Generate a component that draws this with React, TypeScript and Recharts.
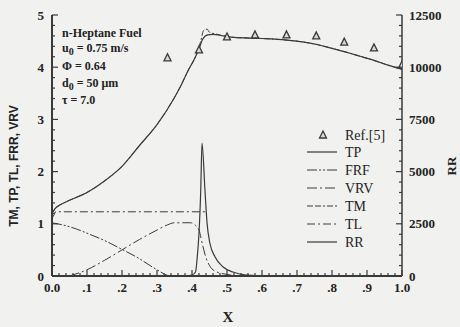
import { ComposedChart, Line, Scatter, XAxis, YAxis } from "recharts";

// left axis series (0..5), [x, value]
const TP: [number, number][] = [
  [0, 1.2], [0.01, 1.3], [0.02, 1.35], [0.05, 1.45], [0.1, 1.6], [0.15, 1.82],
  [0.2, 2.1], [0.25, 2.5], [0.3, 2.9], [0.35, 3.42], [0.37, 3.67], [0.39, 3.95],
  [0.41, 4.2], [0.42, 4.35], [0.43, 4.53], [0.445, 4.62], [0.46, 4.63], [0.49, 4.6],
  [0.52, 4.57], [0.6, 4.55], [0.67, 4.52], [0.72, 4.48], [0.76, 4.43], [0.8, 4.36],
  [0.84, 4.29], [0.88, 4.21], [0.92, 4.13], [0.96, 4.04], [1.0, 3.96],
];
const TM: [number, number][] = [
  [0, 1.2], [0.01, 1.3], [0.02, 1.35], [0.05, 1.45], [0.1, 1.6], [0.15, 1.82],
  [0.2, 2.1], [0.25, 2.5], [0.3, 2.9], [0.35, 3.42], [0.37, 3.67], [0.39, 3.95],
  [0.41, 4.2], [0.425, 4.5], [0.433, 4.7], [0.443, 4.73], [0.45, 4.67], [0.466, 4.64],
  [0.49, 4.6], [0.52, 4.57], [0.6, 4.55], [0.67, 4.52], [0.72, 4.48], [0.76, 4.43],
  [0.8, 4.36], [0.84, 4.29], [0.88, 4.21], [0.92, 4.13], [0.96, 4.04], [1.0, 3.96],
];
const TL: [number, number][] = [
  [0, 1.1], [0.01, 1.23], [0.1, 1.23], [0.2, 1.23], [0.3, 1.23], [0.4, 1.23], [0.443, 1.23],
];
const FRF: [number, number][] = [
  [0, 1.02], [0.03, 0.98], [0.07, 0.9], [0.1, 0.82], [0.15, 0.68], [0.2, 0.51],
  [0.25, 0.33], [0.28, 0.2], [0.3, 0.12], [0.32, 0.04], [0.335, 0],
];
const VRV: [number, number][] = [
  [0.05, 0], [0.1, 0.12], [0.15, 0.3], [0.2, 0.5], [0.25, 0.7], [0.3, 0.88],
  [0.33, 0.98], [0.35, 1.02], [0.395, 1.02], [0.41, 0.97], [0.42, 0.88], [0.43, 0.6],
  [0.44, 0.35], [0.45, 0.2], [0.47, 0.08], [0.5, 0.03], [0.53, 0],
];
// right axis series
const RR: [number, number][] = [
  [0.38, 0], [0.4, 50], [0.41, 190], [0.415, 910], [0.42, 2060], [0.425, 4120],
  [0.4286, 6370], [0.437, 4120], [0.443, 2540], [0.451, 1580], [0.466, 910],
  [0.489, 430], [0.517, 190], [0.55, 50], [0.6, 0],
];
const REF5: [number, number][] = [
  [0.33, 4.18], [0.42, 4.33], [0.5, 4.58], [0.58, 4.62], [0.67, 4.62],
  [0.755, 4.6], [0.835, 4.48], [0.92, 4.37], [1.0, 4.04],
];

const xMinor = Array.from({ length: 51 }, (_, i) => +(i * 0.02).toFixed(2));
const xLabels = ["0.0", ".1", ".2", ".3", ".4", ".5", ".6", ".7", ".8", ".9", "1.0"];
const yMinor = Array.from({ length: 26 }, (_, i) => +(i * 0.2).toFixed(1));
const rrMinor = Array.from({ length: 26 }, (_, i) => i * 500);
const rrLabels = [0, 2500, 5000, 7500, 10000, 12500];

const rows = (pts: [number, number][]) => pts.map(([x, y]) => ({ x, y }));

const INK = "#3a3a3a";
const TXT = "#222";
const SERIF = "'Liberation Serif', 'Times New Roman', serif";

const legendItems = [
  { name: "TP", dash: undefined },
  { name: "FRF", dash: "10 2 2 2 2 2" },
  { name: "VRV", dash: "10 3 2 3" },
  { name: "TM", dash: "6 2 6 2 2 2" },
  { name: "TL", dash: "8 3 2 3" },
  { name: "RR", dash: undefined },
];

const isMajor = (v: number, step: number) =>
  Math.abs(v / step - Math.round(v / step)) < 1e-6;

function BottomTick(props: any) {
  const { x, y, payload } = props;
  const v = payload.value;
  const major = isMajor(v, 0.1);
  return (
    <g>
      <line x1={x} x2={x} y1={y} y2={y - (major ? 6 : 3)} stroke={INK} strokeWidth={1.2} />
      {major && (
        <text x={x} y={y + 16} textAnchor="middle" fontFamily={SERIF} fontWeight="bold" fontSize={13} fill={TXT}>
          {xLabels[Math.round(v * 10)]}
        </text>
      )}
    </g>
  );
}

function TopTick(props: any) {
  const { x, y, payload } = props;
  const major = isMajor(payload.value, 0.1);
  return <line x1={x} x2={x} y1={y} y2={y + (major ? 6 : 3)} stroke={INK} strokeWidth={1.2} />;
}

function LeftTick(props: any) {
  const { x, y, payload } = props;
  const v = payload.value;
  const major = isMajor(v, 1);
  return (
    <g>
      <line x1={x} x2={x + (major ? 6 : 3)} y1={y} y2={y} stroke={INK} strokeWidth={1.2} />
      {major && (
        <text x={x - 8} y={y + 4.5} textAnchor="end" fontFamily={SERIF} fontWeight="bold" fontSize={13} fill={TXT}>
          {v}
        </text>
      )}
    </g>
  );
}

function RightTick(props: any) {
  const { x, y, payload } = props;
  const v = payload.value;
  const major = rrLabels.includes(v);
  return (
    <g>
      <line x1={x} x2={x - (major ? 6 : 3)} y1={y} y2={y} stroke={INK} strokeWidth={1.2} />
      {major && (
        <text x={x + 7} y={y + 4.5} textAnchor="start" fontFamily={SERIF} fontWeight="bold" fontSize={13} fill={TXT}>
          {v}
        </text>
      )}
    </g>
  );
}

function Tri(props: any) {
  const { cx, cy } = props;
  return (
    <polygon
      points={`${cx},${cy - 4} ${cx - 3.5},${cy + 3} ${cx + 3.5},${cy + 3}`}
      fill="#d8d8d6"
      stroke={INK}
      strokeWidth={1.3}
    />
  );
}

export default function App() {
  return (
    <div style={{ position: "absolute", left: 0, top: 0, width: 460, height: 327, background: "#f1f1ef" }}>
      <ComposedChart width={460} height={327} margin={{ top: 15, right: 0, bottom: 0, left: 0 }}>
        <XAxis
          xAxisId="b"
          type="number"
          dataKey="x"
          domain={[0, 1]}
          ticks={xMinor}
          interval={0}
          height={51}
          tickSize={0}
          tickMargin={0}
          tickLine={false}
          tick={<BottomTick />}
          axisLine={{ stroke: INK, strokeWidth: 2 }}
          allowDataOverflow
        />
        <XAxis
          xAxisId="t"
          orientation="top"
          type="number"
          dataKey="x"
          domain={[0, 1]}
          ticks={xMinor}
          interval={0}
          height={0}
          tickSize={0}
          tickMargin={0}
          tickLine={false}
          tick={<TopTick />}
          axisLine={{ stroke: INK, strokeWidth: 1.5 }}
          allowDataOverflow
        />
        <YAxis
          yAxisId="l"
          type="number"
          domain={[0, 5]}
          ticks={yMinor}
          interval={0}
          width={52}
          tickSize={0}
          tickMargin={0}
          tickLine={false}
          tick={<LeftTick />}
          axisLine={{ stroke: INK, strokeWidth: 2 }}
          allowDataOverflow
        />
        <YAxis
          yAxisId="r"
          orientation="right"
          type="number"
          domain={[0, 12500]}
          ticks={rrMinor}
          interval={0}
          width={58}
          tickSize={0}
          tickMargin={0}
          tickLine={false}
          tick={<RightTick />}
          axisLine={{ stroke: INK, strokeWidth: 1.5 }}
          allowDataOverflow
        />
        <Line xAxisId="b" yAxisId="l" data={rows(TM)} dataKey="y" type="monotone" stroke={INK} strokeWidth={1} strokeDasharray="6 2 6 2 2 2" dot={false} isAnimationActive={false} />
        <Line xAxisId="b" yAxisId="l" data={rows(TP)} dataKey="y" type="monotone" stroke={INK} strokeWidth={1.2} dot={false} isAnimationActive={false} />
        <Line xAxisId="b" yAxisId="l" data={rows(TL)} dataKey="y" type="linear" stroke={INK} strokeWidth={1} strokeDasharray="8 3 2 3" dot={false} isAnimationActive={false} />
        <Line xAxisId="b" yAxisId="l" data={rows(FRF)} dataKey="y" type="monotone" stroke={INK} strokeWidth={1} strokeDasharray="10 2 2 2 2 2" dot={false} isAnimationActive={false} />
        <Line xAxisId="b" yAxisId="l" data={rows(VRV)} dataKey="y" type="monotone" stroke={INK} strokeWidth={1} strokeDasharray="10 3 2 3" dot={false} isAnimationActive={false} />
        <Line xAxisId="b" yAxisId="r" data={rows(RR)} dataKey="y" type="monotone" stroke={INK} strokeWidth={1.2} dot={false} isAnimationActive={false} />
        <Scatter xAxisId="b" yAxisId="l" data={rows(REF5)} dataKey="y" shape={<Tri />} isAnimationActive={false} />
      </ComposedChart>
      <svg width={460} height={327} style={{ position: "absolute", left: 0, top: 0, pointerEvents: "none" }}>
        <g fontFamily={SERIF} fontWeight="bold" fontSize={12} fill={TXT}>
          <text x={62} y={37}>n-Heptane Fuel</text>
          <text x={62} y={52}>
            u<tspan dy={3} fontSize={10}>0</tspan>
            <tspan dy={-3}> = 0.75 m/s</tspan>
          </text>
          <text x={62} y={70}>Φ = 0.64</text>
          <text x={62} y={87}>
            d<tspan dy={3} fontSize={10}>0</tspan>
            <tspan dy={-3}> = 50 μm</tspan>
          </text>
          <text x={62} y={104}>τ = 7.0</text>
        </g>
        <text
          transform="translate(18,166) rotate(-90)"
          textAnchor="middle"
          fontFamily="'Liberation Sans', Arial, sans-serif"
          fontWeight="bold"
          fontSize={12}
          fill={TXT}
        >
          TM, TP, TL, FRR, VRV
        </text>
        <text transform="translate(456,166) rotate(-90)" textAnchor="middle" fontFamily={SERIF} fontWeight="bold" fontSize={13} fill={TXT}>
          RR
        </text>
        <text x={228} y={322} textAnchor="middle" fontFamily={SERIF} fontWeight="bold" fontSize={15} fill={TXT}>
          X
        </text>
        <g fontFamily={SERIF} fontSize={14} fill={TXT}>
          <Tri cx={323} cy={135} />
          <text x={345} y={140}>Ref.[5]</text>
          {legendItems.map((it, i) => (
            <g key={it.name}>
              <line x1={307} x2={337} y1={152 + i * 18} y2={152 + i * 18} stroke={INK} strokeWidth={1.2} strokeDasharray={it.dash} />
              <text x={345} y={157 + i * 18}>{it.name}</text>
            </g>
          ))}
        </g>
      </svg>
    </div>
  );
}
